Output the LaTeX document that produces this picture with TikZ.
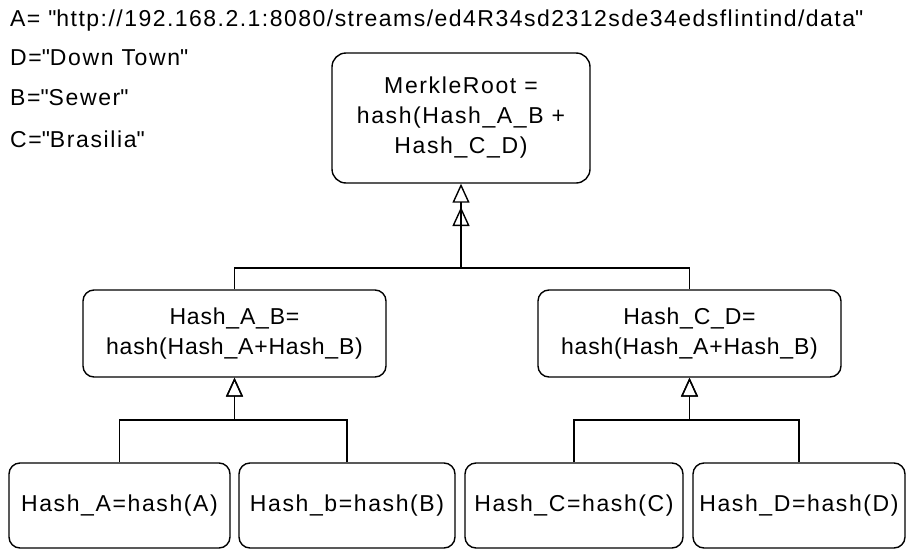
\documentclass[tikz,border=0pt]{standalone}
\usepackage{fontspec}
\setmainfont{Liberation Sans}[LetterSpace=7]
\usetikzlibrary{arrows.meta}
\newcommand{\myq}{\textquotedbl}
\begin{document}
\begin{tikzpicture}[x=1pt,y=1pt,
  every node/.style={font=\fontsize{23}{30}\selectfont, inner sep=0pt},
  box/.style={draw, line width=1.4pt, rounded corners=11pt, align=center},
  midbox/.style={box, minimum width=303pt, minimum height=87pt, font=\fontsize{23}{30}\selectfont\addfontfeature{LetterSpace=3.5}},
  botbox/.style={box, minimum height=85pt},
  conn/.style={line width=1.4pt},
  inh/.style={conn, -{Triangle[open, length=19pt, width=17pt, line width=1.4pt]}},
  lbl/.style={anchor=west}
]
\useasboundingbox (0,0) rectangle (907,-549);
% labels
\node[lbl, font=\fontsize{23}{30}\selectfont\addfontfeature{LetterSpace=6.4}] (ta) at (10,-21) {A= \myq http://192.168.2.1:8080/streams/ed4R34sd2312sde34edsflintind/data\myq};
\node[lbl] (td) at (10,-58) {D=\myq Down Town\myq};
\node[lbl] (tb) at (10,-98) {B=\myq Sewer\myq};
\node[lbl] (tc) at (10,-139) {C=\myq Brasilia\myq};
% boxes
\node[box, minimum width=258pt, minimum height=130pt, rounded corners=14pt] (root) at (461,-118) {MerkleRoot =\\hash(Hash\_A\_B +\\Hash\_C\_D)};
\node[midbox] (ml) at (234.5,-333.5) {Hash\_A\_B=\\hash(Hash\_A+Hash\_B)};
\node[midbox] (mr) at (689.5,-333.5) {Hash\_C\_D=\\hash(Hash\_A+Hash\_B)};
\node[botbox, minimum width=221pt] (ba) at (119.5,-505.5) {Hash\_A=hash(A)};
\node[botbox, minimum width=216pt] (bb) at (347,-505.5) {Hash\_b=hash(B)};
\node[botbox, minimum width=218pt] (bc) at (574,-505.5) {Hash\_C=hash(C)};
\node[botbox, minimum width=212pt] (bd) at (799,-505.5) {Hash\_D=hash(D)};
% junction coordinates
\coordinate (jt) at (461,-268);
\coordinate (jt2) at (461,-207);
\coordinate (jl) at (234.5,-420);
\coordinate (jr) at (689.5,-420);
% connectors
\draw[inh] (ml.north) |- (jt) -- (root.south);
\draw[inh] (mr.north) |- (jt) -- (jt2);
\draw[inh] (ba.north) |- (jl) -- (ml.south);
\draw[inh] (bb.north) |- (jl) -- (ml.south);
\draw[inh] (bc.north) |- (jr) -- (mr.south);
\draw[inh] (bd.north) |- (jr) -- (mr.south);
\end{tikzpicture}
\end{document}
